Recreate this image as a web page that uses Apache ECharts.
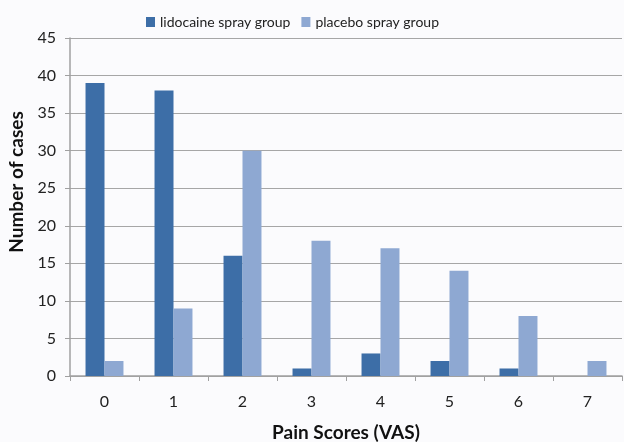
<!DOCTYPE html>
<html>
<head>
<meta charset="utf-8">
<script src="https://cdn.jsdelivr.net/npm/echarts@6/dist/echarts.min.js"></script>
<style>
  html, body { margin: 0; padding: 0; background: #fbfbfd; }
  #chart { width: 624px; height: 442px; }
</style>
</head>
<body>
<div id="chart"></div>
<script>
const categories = ['0', '1', '2', '3', '4', '5', '6', '7'];
const lidocaine = [39, 38, 16, 1, 3, 2, 1, 0];
const placebo = [2, 9, 30, 18, 17, 14, 8, 2];
const colors = ['#3d6ea7', '#8ea8d2'];

const chart = echarts.init(document.getElementById('chart'));
chart.setOption({
  backgroundColor: '#fbfbfd',
  color: colors,
  textStyle: { fontFamily: 'Lato' },
  legend: {
    top: 10,
    left: 141,
    itemWidth: 9,
    itemHeight: 10,
    itemGap: 11,
    icon: 'rect',
    textStyle: { fontSize: 14, color: '#222' },
    data: ['lidocaine spray group', 'placebo spray group']
  },
  grid: { left: 70, right: 2, top: 38, bottom: 66, outerBoundsMode: 'none' },
  xAxis: {
    type: 'category',
    data: categories,
    name: 'Pain Scores (VAS)',
    nameLocation: 'middle',
    nameGap: 47,
    nameTextStyle: { fontSize: 19, fontWeight: 'bold', color: '#111' },
    axisLine: { lineStyle: { color: '#a0a0a0', width: 1.5 } },
    axisTick: { show: true, length: 5, lineStyle: { color: '#a0a0a0' } },
    axisLabel: { fontSize: 16, color: '#222', margin: 18 }
  },
  yAxis: {
    type: 'value',
    min: 0,
    max: 45,
    interval: 5,
    name: 'Number of cases',
    nameLocation: 'middle',
    nameGap: 40,
    nameTextStyle: { fontSize: 19, fontWeight: 'bold', color: '#111', padding: [0, 0, 0, 50] },
    axisLine: { show: true, lineStyle: { color: '#a0a0a0', width: 1.5 } },
    axisTick: { show: true, length: 5, lineStyle: { color: '#a0a0a0' } },
    axisLabel: { fontSize: 16, color: '#222', margin: 14 },
    splitLine: { lineStyle: { color: '#a6a6a6', width: 1.2 } }
  },
  series: [
    {
      name: 'lidocaine spray group',
      type: 'bar',
      data: lidocaine,
      barGap: '0%',
      barCategoryGap: '45%'
    },
    {
      name: 'placebo spray group',
      type: 'bar',
      data: placebo,
      barGap: '0%',
      barCategoryGap: '45%'
    }
  ]
});
</script>
</body>
</html>
